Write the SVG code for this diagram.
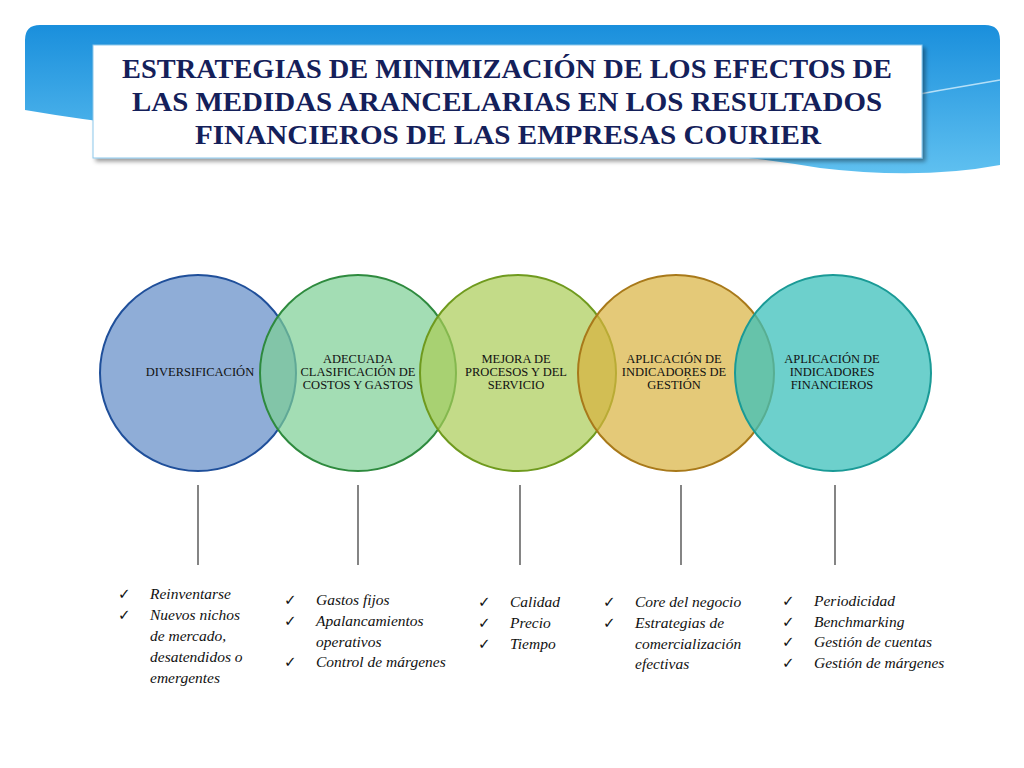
<svg xmlns="http://www.w3.org/2000/svg" width="1024" height="768" viewBox="0 0 1024 768">
<defs>
<style>
.t{font-family:"Liberation Serif","Times New Roman","DejaVu Serif",serif;font-weight:bold;font-size:27px;fill:#14205a;text-anchor:middle}
.c{font-family:"Liberation Serif","Times New Roman","DejaVu Serif",serif;font-size:12.5px;fill:#111;text-anchor:middle}
.b{font-family:"Liberation Serif","Times New Roman","DejaVu Serif",serif;font-style:italic;font-size:15.5px;fill:#111}
.k{font-family:"DejaVu Sans",sans-serif;font-size:15px;font-weight:bold;fill:#111}
.ln{stroke:#333;stroke-width:1.2}
</style>
<linearGradient id="sky" x1="0" y1="0" x2="0" y2="1"><stop offset="0" stop-color="#1a8fdc"/><stop offset="1" stop-color="#5fc0f0"/></linearGradient>
<filter id="sh"><feDropShadow dx="3" dy="3" stdDeviation="2" flood-opacity="0.4"/></filter>
</defs>
<rect width="1024" height="768" fill="#fff"/>
<path d="M25,40 Q25,25 40,25 L985,25 Q1000,25 1000,40 L1000,165 Q920,180 820,168 Q650,140 400,140 Q200,140 25,110 Z" fill="url(#sky)"/>
<path d="M650,150 Q820,110 1000,80" fill="none" stroke="#d5effc" stroke-width="1.5" opacity="0.8"/>
<g id="title">
<rect x="93" y="45" width="829" height="113" fill="#fff" stroke="#8cc8ec" filter="url(#sh)"/>
<text class="t" x="507" y="78" textLength="770" lengthAdjust="spacingAndGlyphs">ESTRATEGIAS DE MINIMIZACIÓN DE LOS EFECTOS DE</text>
<text class="t" x="507" y="111" textLength="750" lengthAdjust="spacingAndGlyphs">LAS MEDIDAS ARANCELARIAS EN LOS RESULTADOS</text>
<text class="t" x="508" y="144" textLength="626" lengthAdjust="spacingAndGlyphs">FINANCIEROS DE LAS EMPRESAS COURIER</text>
</g>
<g id="c1"><circle cx="198" cy="373" r="98" fill="#7b9fd0" fill-opacity="0.85" stroke="#1f4f9a" stroke-width="2"/><text class="c" x="200" y="376">DIVERSIFICACIÓN</text></g>
<g id="c2"><circle cx="358" cy="373" r="98" fill="#7ccf94" fill-opacity="0.7" stroke="#2e8a3e" stroke-width="2"/><text class="c" x="358" y="363">ADECUADA</text><text class="c" x="358" y="376">CLASIFICACIÓN DE</text><text class="c" x="358" y="389">COSTOS Y GASTOS</text></g>
<g id="c3"><circle cx="518" cy="373" r="98" fill="#a9cc55" fill-opacity="0.7" stroke="#6f9a1e" stroke-width="2"/><text class="c" x="516" y="363">MEJORA DE</text><text class="c" x="516" y="376">PROCESOS Y DEL</text><text class="c" x="516" y="389">SERVICIO</text></g>
<g id="c4"><circle cx="676" cy="373" r="98" fill="#d9b23f" fill-opacity="0.7" stroke="#a8791a" stroke-width="2"/><text class="c" x="674" y="363">APLICACIÓN DE</text><text class="c" x="674" y="376">INDICADORES DE</text><text class="c" x="674" y="389">GESTIÓN</text></g>
<g id="c5"><circle cx="833" cy="373" r="98" fill="#3cc0bb" fill-opacity="0.75" stroke="#1a9a96" stroke-width="2"/><text class="c" x="832" y="363">APLICACIÓN DE</text><text class="c" x="832" y="376">INDICADORES</text><text class="c" x="832" y="389">FINANCIEROS</text></g>
<g id="connectors">
<line class="ln" x1="198" y1="485" x2="198" y2="565"/>
<line class="ln" x1="358" y1="485" x2="358" y2="565"/>
<line class="ln" x1="520" y1="485" x2="520" y2="565"/>
<line class="ln" x1="681" y1="485" x2="681" y2="565"/>
<line class="ln" x1="835" y1="485" x2="835" y2="565"/>
</g>
<g id="list1">
<text class="k" x="118" y="599">✓</text><text class="b" x="150" y="599">Reinventarse</text>
<text class="k" x="118" y="620">✓</text><text class="b" x="150" y="620">Nuevos nichos</text>
<text class="b" x="150" y="641">de mercado,</text>
<text class="b" x="150" y="662">desatendidos o</text>
<text class="b" x="150" y="683">emergentes</text>
</g>
<g id="list2">
<text class="k" x="284" y="605">✓</text><text class="b" x="316" y="605">Gastos fijos</text>
<text class="k" x="284" y="626">✓</text><text class="b" x="316" y="626">Apalancamientos</text>
<text class="b" x="316" y="647">operativos</text>
<text class="k" x="284" y="667">✓</text><text class="b" x="316" y="667">Control de márgenes</text>
</g>
<g id="list3">
<text class="k" x="478" y="607">✓</text><text class="b" x="510" y="607">Calidad</text>
<text class="k" x="478" y="628">✓</text><text class="b" x="510" y="628">Precio</text>
<text class="k" x="478" y="649">✓</text><text class="b" x="510" y="649">Tiempo</text>
</g>
<g id="list4">
<text class="k" x="603" y="607">✓</text><text class="b" x="635" y="607">Core del negocio</text>
<text class="k" x="603" y="628">✓</text><text class="b" x="635" y="628">Estrategias de</text>
<text class="b" x="635" y="649">comercialización</text>
<text class="b" x="635" y="669">efectivas</text>
</g>
<g id="list5">
<text class="k" x="782" y="606">✓</text><text class="b" x="814" y="606">Periodicidad</text>
<text class="k" x="782" y="627">✓</text><text class="b" x="814" y="627">Benchmarking</text>
<text class="k" x="782" y="647">✓</text><text class="b" x="814" y="647">Gestión de cuentas</text>
<text class="k" x="782" y="668">✓</text><text class="b" x="814" y="668">Gestión de márgenes</text>
</g>
</svg>
